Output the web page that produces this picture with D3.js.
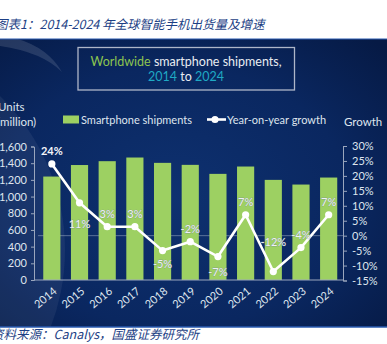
<!DOCTYPE html>
<html>
<head>
<meta charset="utf-8">
<script src="https://cdn.jsdelivr.net/npm/d3@7/dist/d3.min.js"></script>
<style>
  html, body { margin: 0; padding: 0; background: #ffffff; }
  svg { display: block; }
</style>
</head>
<body>
<svg id="chart" width="387" height="344"></svg>
<script>
// Worldwide smartphone shipments (million units) and year-on-year growth (%)
const years = ["2014","2015","2016","2017","2018","2019","2020","2021","2022","2023","2024"];
const shipments = [1240, 1378, 1424, 1468, 1404, 1380, 1272, 1360, 1200, 1144, 1228];
const growth = [24, 11, 3, 3, -5, -2, -7, 7, -12, -4, 7];
const leftTicks = [0, 200, 400, 600, 800, 1000, 1200, 1400, 1600];
const rightTicks = [-15, -10, -5, 0, 5, 10, 15, 20, 25, 30];

// vertical offset of each growth label from its point (negative = above)
const labelOffset = [-13, 21, -13, -13, 13, -13, 15, -13, -30, -13, -13];

const svg = d3.select("#chart");
const font = "Lato, 'Open Sans', sans-serif";

// ---- report heading and source line ----
svg.append("text")
  .attr("x", -5).attr("y", 29)
  .attr("font-family", "'Noto Sans CJK SC', sans-serif")
  .attr("font-size", 12.5).attr("font-style", "italic")
  .attr("fill", "#1d3f85")
  .text("图表1：2014-2024 年全球智能手机出货量及增速");

svg.append("text")
  .attr("x", -9).attr("y", 339)
  .attr("font-family", "'Noto Sans CJK SC', sans-serif")
  .attr("font-size", 12.5).attr("font-style", "italic")
  .attr("fill", "#1d3f85")
  .text("资料来源：Canalys，国盛证券研究所");

// ---- dark slide background ----
const defs = svg.append("defs");
const bg = defs.append("radialGradient").attr("id", "bg")
  .attr("cx", "45%").attr("cy", "55%").attr("r", "75%");
bg.append("stop").attr("offset", "0%").attr("stop-color", "#0e3170");
bg.append("stop").attr("offset", "60%").attr("stop-color", "#0a2760");
bg.append("stop").attr("offset", "100%").attr("stop-color", "#061a45");

const panelTop = 39, panelBottom = 327;
svg.append("rect")
  .attr("x", 0).attr("y", panelTop)
  .attr("width", 387).attr("height", panelBottom - panelTop)
  .attr("fill", "url(#bg)");

const clip = defs.append("clipPath").attr("id", "panelClip");
clip.append("rect").attr("x", 0).attr("y", panelTop)
  .attr("width", 387).attr("height", panelBottom - panelTop);

const deco = svg.append("g").attr("clip-path", "url(#panelClip)");
// soft lighter disc in the lower left
deco.append("circle")
  .attr("cx", -150).attr("cy", 250).attr("r", 215)
  .attr("fill", "#ffffff").attr("opacity", 0.06);
// crescent streak in the top left
deco.append("path")
  .attr("d", "M18,39 Q48,48 62,72 Q42,52 0,46 L0,39 Z")
  .attr("fill", "#ffffff").attr("opacity", 0.12);

svg.append("line")
  .attr("x1", 0).attr("x2", 387).attr("y1", panelTop).attr("y2", panelTop)
  .attr("stroke", "#2a5bb0").attr("stroke-width", 1.2);
svg.append("line")
  .attr("x1", 0).attr("x2", 387).attr("y1", panelBottom).attr("y2", panelBottom)
  .attr("stroke", "#2a5bb0").attr("stroke-width", 1.5);

// ---- chart title box ----
svg.append("rect")
  .attr("x", 78).attr("y", 47.5).attr("width", 216.5).attr("height", 42.5)
  .attr("fill", "none").attr("stroke", "#aeb6c8").attr("stroke-width", 1.3);

const t1 = svg.append("text")
  .attr("x", 186).attr("y", 66).attr("text-anchor", "middle")
  .attr("font-family", font).attr("font-size", 12.5).attr("fill", "#e8ecf2");
t1.append("tspan").attr("fill", "#8cc450").text("Worldwide");
t1.append("tspan").text(" smartphone shipments,");

const t2 = svg.append("text")
  .attr("x", 186).attr("y", 80.5).attr("text-anchor", "middle")
  .attr("font-family", font).attr("font-size", 12.5).attr("fill", "#e8ecf2");
t2.append("tspan").attr("fill", "#1fa9c4").text("2014");
t2.append("tspan").text(" to ");
t2.append("tspan").attr("fill", "#1fa9c4").text("2024");

// ---- scales ----
const plotLeft = 38, plotRight = 342.5;
const x = d3.scaleBand().domain(years).range([plotLeft, plotRight]).paddingInner(0.38).paddingOuter(0.19);
const yL = d3.scaleLinear().domain([0, 1600]).range([280, 146.5]);
const yR = d3.scaleLinear().domain([-15, 30]).range([280.5, 146]);

const axisColor = "#9aa6bd";
const labelColor = "#dfe5ee";

// ---- left axis ----
const gL = svg.append("g").attr("transform", "translate(34,0)")
  .call(d3.axisLeft(yL).tickValues(leftTicks).tickSize(3).tickPadding(4)
    .tickFormat(d3.format(",")));
gL.select(".domain").attr("stroke", axisColor);
gL.selectAll(".tick line").attr("stroke", axisColor);
gL.selectAll("text").attr("font-family", font).attr("font-size", 11).attr("fill", labelColor);

// ---- right axis ----
const gR = svg.append("g").attr("transform", "translate(343,0)")
  .call(d3.axisRight(yR).tickValues(rightTicks).tickSize(4).tickPadding(5)
    .tickFormat(d => d + "%"));
gR.select(".domain").attr("stroke", axisColor);
gR.selectAll(".tick line").attr("stroke", axisColor);
gR.selectAll("text").attr("font-family", font).attr("font-size", 11).attr("fill", labelColor);

// zero-growth reference line
svg.append("line")
  .attr("x1", plotLeft).attr("x2", 343)
  .attr("y1", yR(0)).attr("y2", yR(0))
  .attr("stroke", "#c9d2e0").attr("stroke-width", 0.7).attr("opacity", 0.6);

// ---- shipment bars ----
svg.append("g").selectAll("rect")
  .data(years)
  .join("rect")
  .attr("x", d => x(d))
  .attr("width", x.bandwidth())
  .attr("y", (d, i) => yL(shipments[i]))
  .attr("height", (d, i) => yL(0) - yL(shipments[i]))
  .attr("fill", "#9dd062");

// x baseline
svg.append("line")
  .attr("x1", 34).attr("x2", 343).attr("y1", 280).attr("y2", 280)
  .attr("stroke", axisColor).attr("stroke-width", 1);

// ---- x category labels ----
svg.append("g").selectAll("text")
  .data(years)
  .join("text")
  .attr("transform", d => `translate(${x(d) + x.bandwidth() / 2 + 3},${289}) rotate(-40)`)
  .attr("text-anchor", "end")
  .attr("dominant-baseline", "central")
  .attr("font-family", font).attr("font-size", 11).attr("fill", labelColor)
  .text(d => d);

// ---- growth line ----
const cx = d => x(d) + x.bandwidth() / 2;
const line = d3.line().x((d, i) => cx(years[i])).y(d => yR(d));
svg.append("path")
  .datum(growth)
  .attr("d", line)
  .attr("fill", "none").attr("stroke", "#ffffff").attr("stroke-width", 2.6)
  .attr("stroke-linejoin", "round");

svg.append("g").selectAll("circle")
  .data(growth)
  .join("circle")
  .attr("cx", (d, i) => cx(years[i]))
  .attr("cy", d => yR(d))
  .attr("r", 3.6)
  .attr("fill", "#ffffff");

// growth value labels
svg.append("g").selectAll("text")
  .data(growth)
  .join("text")
  .attr("x", (d, i) => cx(years[i]))
  .attr("y", (d, i) => yR(d) + labelOffset[i])
  .attr("text-anchor", "middle")
  .attr("dominant-baseline", "central")
  .attr("font-family", font).attr("font-size", 11)
  .attr("font-weight", (d, i) => i === 0 ? "bold" : "normal")
  .attr("fill", (d, i) => i === 0 ? "#f4f6fa" : "#eef1f5")
  .attr("stroke", (d, i) => i === 0 ? "none" : "#6f7f95")
  .attr("stroke-width", 0.4)
  .attr("paint-order", "stroke")
  .text(d => d + "%");

// ---- axis titles ----
svg.append("text").attr("x", -2).attr("y", 111)
  .attr("font-family", font).attr("font-size", 11.5).attr("fill", labelColor)
  .text("Units");
svg.append("text").attr("x", -3).attr("y", 126)
  .attr("font-family", font).attr("font-size", 11.5).attr("fill", labelColor)
  .text("(million)");
svg.append("text").attr("x", 344).attr("y", 126)
  .attr("font-family", font).attr("font-size", 11.5).attr("fill", labelColor)
  .text("Growth");

// ---- legend ----
svg.append("rect").attr("x", 63).attr("y", 115.5).attr("width", 16).attr("height", 8)
  .attr("fill", "#9dd062");
svg.append("text").attr("x", 81).attr("y", 123.5)
  .attr("font-family", font).attr("font-size", 11).attr("fill", labelColor)
  .text("Smartphone shipments");
svg.append("line").attr("x1", 207).attr("x2", 226).attr("y1", 119.5).attr("y2", 119.5)
  .attr("stroke", "#ffffff").attr("stroke-width", 2.6);
svg.append("circle").attr("cx", 215).attr("cy", 119.5).attr("r", 3.6).attr("fill", "#ffffff");
svg.append("text").attr("x", 227).attr("y", 123.5)
  .attr("font-family", font).attr("font-size", 11).attr("fill", labelColor)
  .text("Year-on-year growth");
</script>
</body>
</html>
